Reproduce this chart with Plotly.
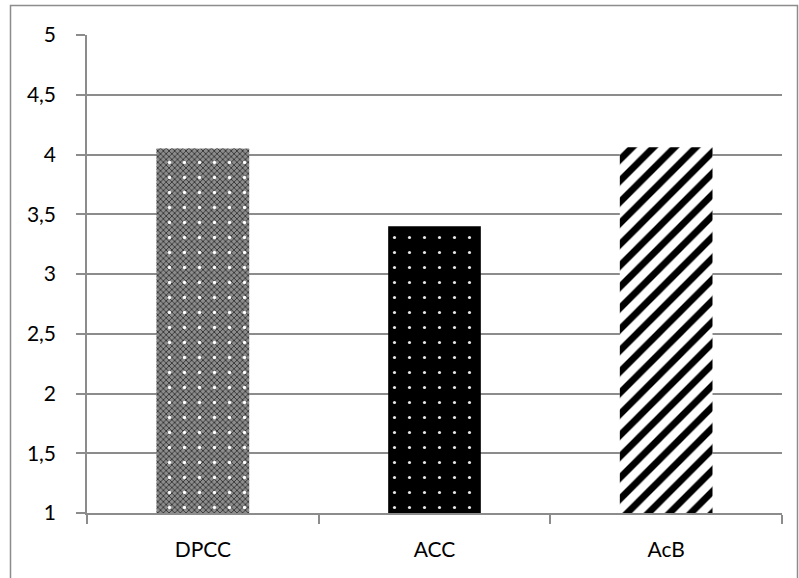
import plotly.graph_objects as go

categories = ["DPCC", "ACC", "AcB"]
values = [4.05, 3.40, 4.06]
y_ticks = [1, 1.5, 2, 2.5, 3, 3.5, 4, 4.5, 5]
y_tick_labels = ["1", "1,5", "2", "2,5", "3", "3,5", "4", "4,5", "5"]

base_colors = ["#8c8c8c", "#000000", "#ffffff"]
texture_shapes = ["x", "", ""]
overlay_shapes = [".", ".", "/"]
overlay_fg = ["#ffffff", "#e6e6e6", "#000000"]
overlay_size = [15, 15, 15]
overlay_solidity = [0.04, 0.035, 0.45]

GRID = "#8c8c8c"
FONT = "Lato"

fig = go.Figure()
# solid fills
fig.add_trace(go.Bar(
    x=categories, y=values, base=0,
    marker=dict(color=base_colors, line=dict(width=0)),
    width=0.4, hoverinfo="skip", showlegend=False,
))
# fine checker texture (DPCC only)
fig.add_trace(go.Bar(
    x=categories, y=values, base=0,
    marker=dict(color="rgba(0,0,0,0)", line=dict(width=0),
                pattern=dict(shape=texture_shapes, fgcolor="#333333",
                             size=4, solidity=0.4, fgopacity=1,
                             fillmode="overlay")),
    width=0.4, hoverinfo="skip", showlegend=False,
))
# dots / stripes
fig.add_trace(go.Bar(
    x=categories, y=values, base=0,
    marker=dict(color="rgba(0,0,0,0)", line=dict(width=0),
                pattern=dict(shape=overlay_shapes, fgcolor=overlay_fg,
                             size=overlay_size, solidity=overlay_solidity,
                             fgopacity=1, fillmode="overlay")),
    width=0.4, showlegend=False,
))

W, H = 799, 578
L, R, T, B = 87, 17, 35, 65
pw, ph = W - L - R, H - T - B

def px2paper_x(px):
    return (px - L) / pw

def px2paper_y(py):
    return (H - B - py) / ph

fig.add_shape(type="rect", xref="paper", yref="paper",
              x0=px2paper_x(10.5), x1=px2paper_x(797.5),
              y0=px2paper_y(590), y1=px2paper_y(5.5),
              line=dict(color=GRID, width=1.5), fillcolor="rgba(0,0,0,0)",
              layer="below")

fig.update_layout(
    width=W, height=H,
    margin=dict(l=L, r=R, t=T, b=B),
    paper_bgcolor="white", plot_bgcolor="white",
    barmode="overlay",
    font=dict(family=FONT, size=21, color="#000000"),
    xaxis=dict(
        type="category", range=[-0.5, 2.5],
        showline=True, linecolor=GRID, linewidth=1.5,
        ticks="outside", tickson="boundaries", ticklen=9, tickcolor=GRID, tickwidth=1.5,
        showgrid=False, ticklabelstandoff=17,
        tickfont=dict(family=FONT, size=21, color="#000000"),
    ),
    yaxis=dict(
        range=[1, 5], tickvals=y_ticks, ticktext=y_tick_labels,
        showline=True, linecolor=GRID, linewidth=1.5,
        ticks="outside", ticklen=9, tickcolor=GRID, tickwidth=1.5,
        showgrid=True, gridcolor=GRID, gridwidth=1.5,
        zeroline=False, ticklabelstandoff=16,
        tickfont=dict(family=FONT, size=21, color="#000000"),
    ),
)

fig.write_html("out.html", config={"displayModeBar": False},
               post_script="document.body.style.margin='0';document.body.style.padding='0';")
